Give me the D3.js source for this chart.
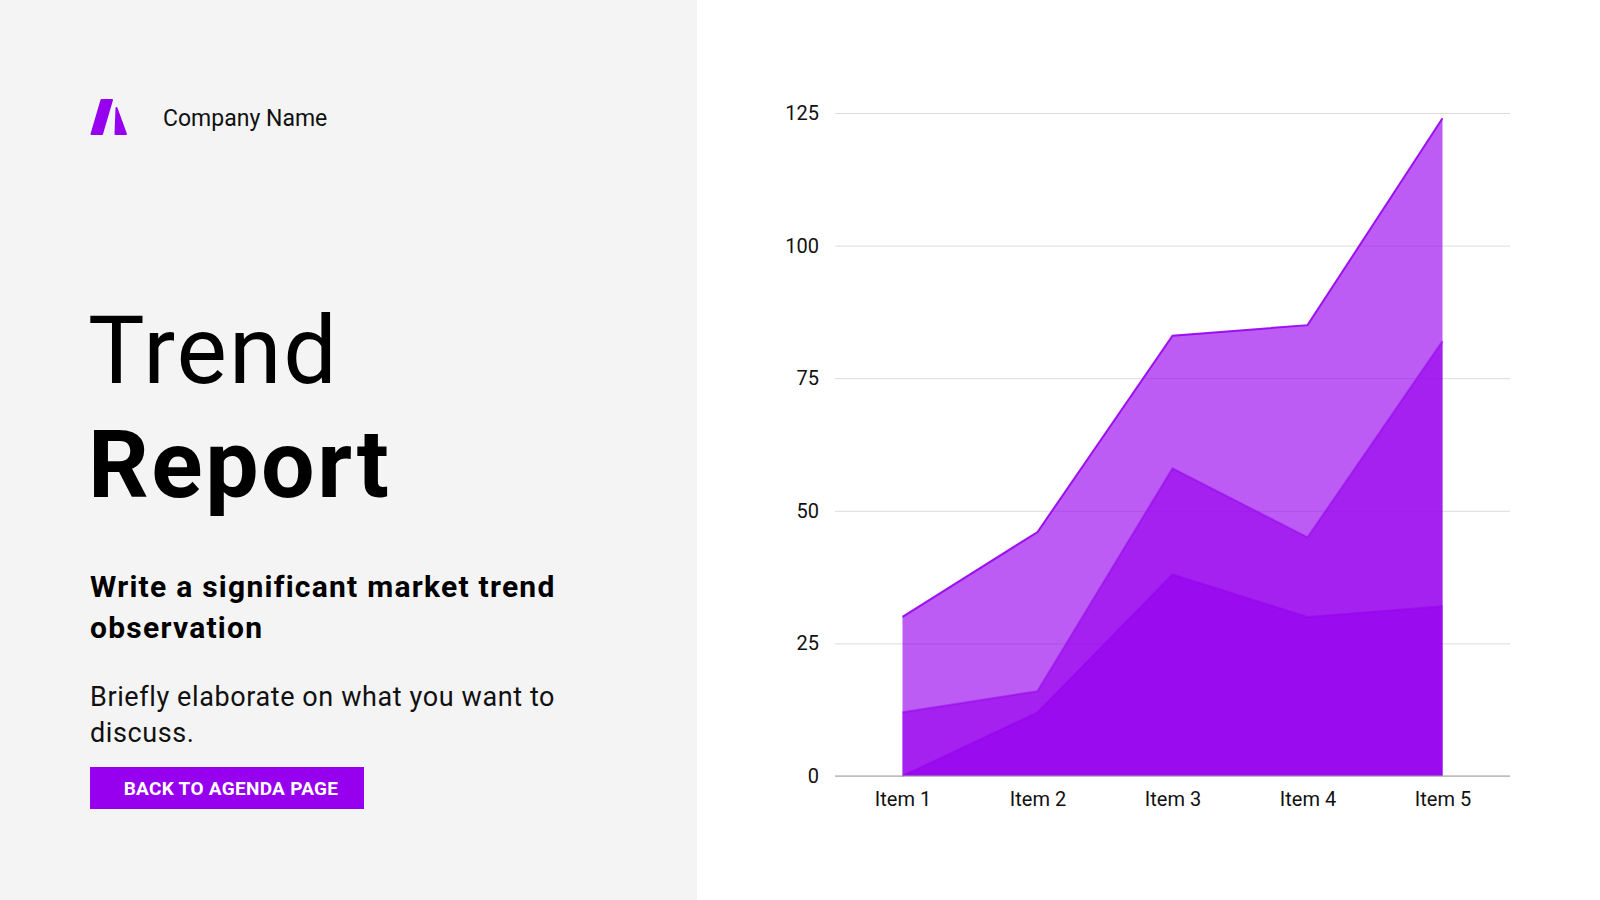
<!DOCTYPE html>
<html>
<head>
<meta charset="utf-8">
<script src="https://cdn.jsdelivr.net/npm/d3@7"></script>
<style>
  body { margin: 0; background: #fff; }
  svg { display: block; font-family: Roboto, "Noto Sans", sans-serif; }
</style>
</head>
<body>
<svg></svg>
<script>
const width = 1600;
const height = 900;

// chart data
const items = ["Item 1", "Item 2", "Item 3", "Item 4", "Item 5"];
const seriesA = [0, 12, 38, 30, 32];
const seriesB = [12, 16, 58, 45, 82];
const seriesC = [30, 46, 83, 85, 124];
const yTicks = [0, 25, 50, 75, 100, 125];

const purple = "#9600ee";

const svg = d3.select("svg").attr("width", width).attr("height", height);

// left panel
svg.append("rect").attr("width", 697).attr("height", height).attr("fill", "#f4f4f4");

// logo
const logo = svg.append("g").attr("fill", purple).attr("stroke", purple)
  .attr("stroke-width", 2).attr("stroke-linejoin", "round");
logo.append("path").attr("d", "M101.5,100 L112,100 L102,134 L91.5,134 Z");
logo.append("path").attr("d", "M116.5,108 L126,134 L115.5,134 Z");

svg.append("text").attr("x", 163).attr("y", 126)
  .attr("font-size", 23).attr("fill", "#111").text("Company Name");

svg.append("text").attr("x", 88).attr("y", 383)
  .attr("font-size", 95).attr("font-weight", 400).attr("letter-spacing", 2)
  .attr("fill", "#000").text("Trend");
svg.append("text").attr("x", 88).attr("y", 497)
  .attr("font-size", 95).attr("font-weight", 700).attr("letter-spacing", 2.5)
  .attr("fill", "#000").text("Report");

const headline = ["Write a significant market trend", "observation"];
svg.selectAll("text.headline").data(headline).enter().append("text")
  .attr("class", "headline")
  .attr("x", 90).attr("y", (d, i) => 597 + i * 41)
  .attr("font-size", 30).attr("font-weight", 700).attr("letter-spacing", 1.25)
  .attr("fill", "#000")
  .text((d) => d);

const body = ["Briefly elaborate on what you want to", "discuss."];
svg.selectAll("text.body").data(body).enter().append("text")
  .attr("class", "body")
  .attr("x", 90).attr("y", (d, i) => 706 + i * 36)
  .attr("font-size", 27).attr("letter-spacing", 0.6).attr("fill", "#111")
  .text((d) => d);

svg.append("rect").attr("x", 90).attr("y", 767).attr("width", 274).attr("height", 42)
  .attr("fill", purple);
svg.append("text").attr("x", 231).attr("y", 795).attr("text-anchor", "middle")
  .attr("font-size", 19).attr("font-weight", 700).attr("letter-spacing", 0.3)
  .attr("fill", "#fff")
  .text("BACK TO AGENDA PAGE");

// chart
const x = d3.scalePoint().domain(items).range([835, 1510]).padding(0.5);
const y = d3.scaleLinear().domain([0, 125]).range([776, 113]);

const yAxis = svg.append("g")
  .attr("transform", "translate(835,0)")
  .call(d3.axisLeft(y).tickValues(yTicks).tickSize(-675).tickPadding(16));
yAxis.select(".domain").remove();
yAxis.selectAll(".tick line").attr("stroke", "#dcdcdc");
yAxis.selectAll(".tick text").attr("font-size", 20).attr("fill", "#111")
  .attr("font-family", "Roboto, sans-serif");

const area = d3.area()
  .x((d, i) => x(items[i]))
  .y0(y(0))
  .y1((d) => y(d));
const line = d3.line()
  .x((d, i) => x(items[i]))
  .y((d) => y(d));

const allSeries = [seriesC, seriesB, seriesA];
svg.selectAll("path.area").data(allSeries).enter().append("path")
  .attr("class", "area")
  .attr("d", area)
  .attr("fill", purple)
  .attr("fill-opacity", 0.64);

svg.selectAll("path.top").data(allSeries).enter().append("path")
  .attr("class", "top")
  .attr("d", line)
  .attr("fill", "none")
  .attr("stroke", purple)
  .attr("stroke-opacity", (d, i) => (i === 0 ? 0.9 : 0.5))
  .attr("stroke-width", 2);

// baseline
svg.append("line").attr("x1", 835).attr("x2", 1510)
  .attr("y1", y(0)).attr("y2", y(0)).attr("stroke", "#a0a0a0").attr("stroke-width", 1.2);

const xAxis = svg.append("g")
  .attr("transform", `translate(0,${y(0)})`)
  .call(d3.axisBottom(x).tickSize(0).tickPadding(16));
xAxis.select(".domain").remove();
xAxis.selectAll(".tick text").attr("font-size", 20).attr("fill", "#111")
  .attr("font-family", "Roboto, sans-serif");
</script>
</body>
</html>
